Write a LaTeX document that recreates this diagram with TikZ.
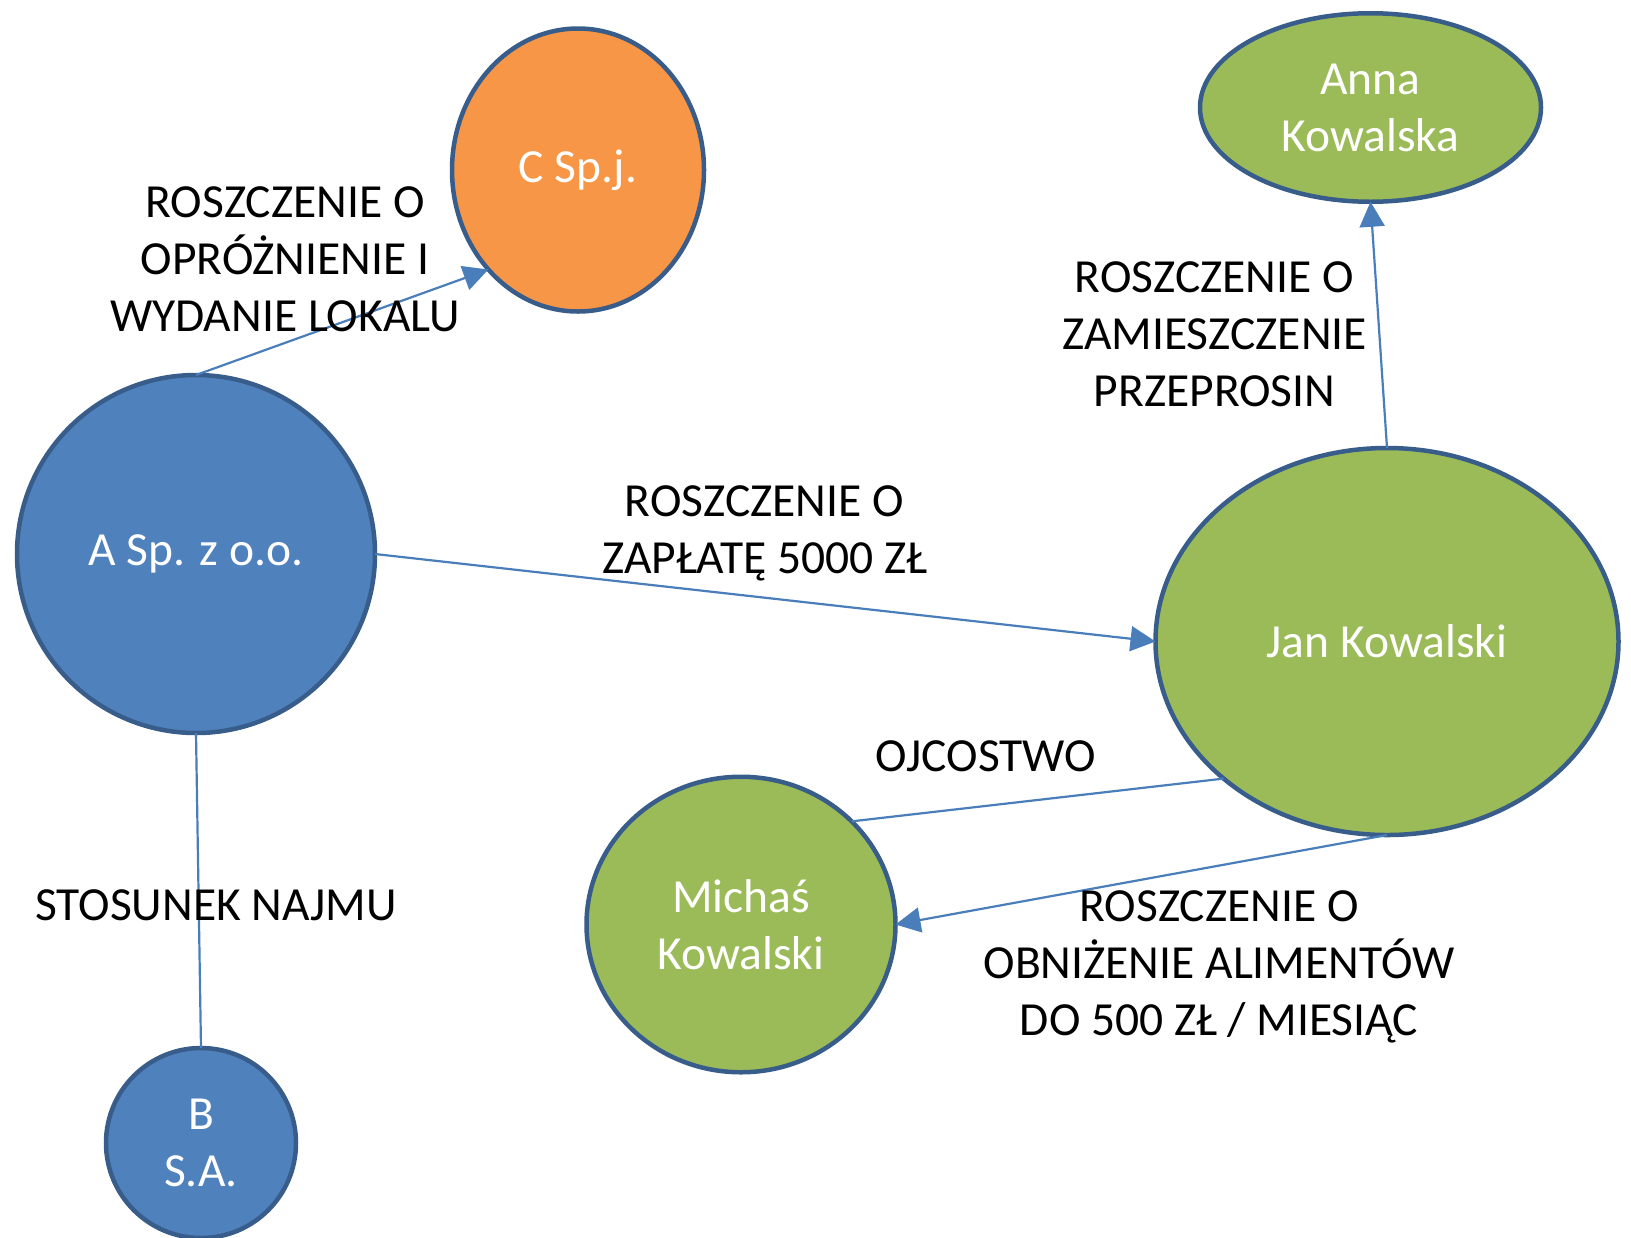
\documentclass[tikz,border=0pt]{standalone}
\usepackage{fontspec}
\setmainfont{Carlito}
\usepackage{tikz}
\usetikzlibrary{arrows.meta,shapes.geometric}
\definecolor{blfill}{HTML}{4F81BD}
\definecolor{bledge}{HTML}{385D8A}
\definecolor{grfill}{HTML}{9BBB59}
\definecolor{orfill}{HTML}{F79646}
\definecolor{lnblue}{HTML}{4A7EBB}

\begin{document}
\begin{tikzpicture}[x=1bp,y=-1bp,
    party/.style={ellipse,draw=bledge,line width=4.5bp,text=white,align=center,
        inner sep=0pt,outer sep=0pt,font=\fontsize{47.5bp}{57bp}\selectfont},
    claim/.style={align=center,inner sep=0pt,font=\fontsize{47.5bp}{57bp}\selectfont},
    link/.style={draw=lnblue,line width=2.2bp},
    tip/.style={link,-{Triangle[length=25bp,width=25bp]}}]
    \useasboundingbox (0,0) rectangle (1631,1237);

    \node[party,fill=blfill,minimum width=358bp,minimum height=358bp] (A) at (196,554) {A Sp. z o.o.};
    \node[party,fill=orfill,minimum width=252bp,minimum height=283bp] (C) at (578,170) {C Sp.j.};
    \node[party,fill=blfill,minimum width=190bp,minimum height=190bp] (B) at (201,1143) {B\\S.A.};
    \node[party,fill=grfill,minimum width=341bp,minimum height=188.5bp] (Anna) at (1370.5,107.5) {Anna\\Kowalska};
    \node[party,fill=grfill,minimum width=463bp,minimum height=387bp] (Jan) at (1387,641.5) {Jan Kowalski};
    \node[party,fill=grfill,minimum width=309bp,minimum height=295.5bp] (Mich) at (741,924.5) {Michaś\\Kowalski};

    \draw[tip] (A.north) -- (C.228);
    \draw[tip] (A.east) -- (Jan.west);
    \draw[link] (A.south) -- (B.north);
    \draw[tip] (Jan.north) -- (Anna.south);
    \draw[link] (Jan.220) -- (Mich.43);
    \draw[tip] (Jan.south) -- (Mich.east);

    \node[claim] (lokal) at (285,259) {ROSZCZENIE O\\OPRÓŻNIENIE I\\WYDANIE LOKALU};
    \node[claim] (zaplata) at (764.5,533) {ROSZCZENIE O\\ZAPŁATĘ 5000 ZŁ};
    \node[claim] (przeprosiny) at (1214.5,334) {ROSZCZENIE O\\ZAMIESZCZENIE\\PRZEPROSIN};
    \node[claim] (ojcostwo) at (986,756) {OJCOSTWO};
    \node[claim] (najem) at (216,905) {STOSUNEK NAJMU};
    \node[claim] (alimenty) at (1219,967) {ROSZCZENIE O\\OBNIŻENIE ALIMENTÓW\\DO 500 ZŁ / MIESIĄC};
\end{tikzpicture}
\end{document}
